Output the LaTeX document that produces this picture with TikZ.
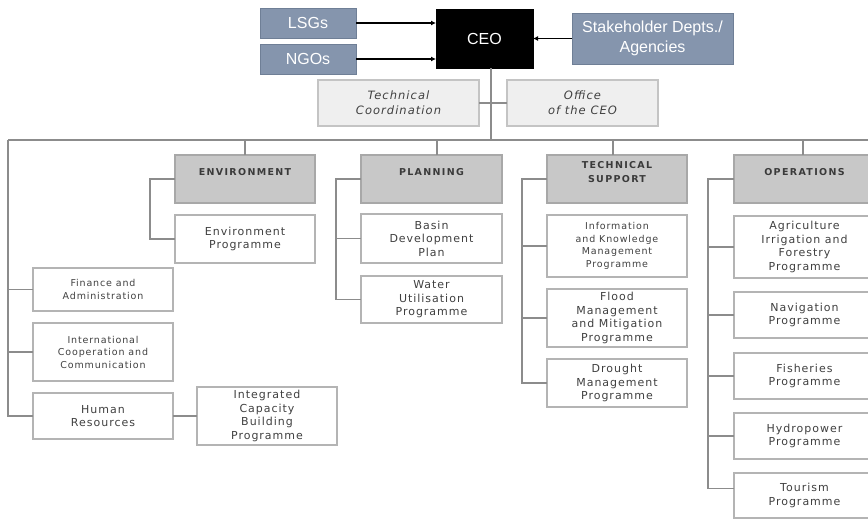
\documentclass[tikz,border=0pt]{standalone}
\usepackage{fontspec}
\usetikzlibrary{arrows.meta}
\newfontfamily\topfont{Liberation Sans}
\newfontfamily\boxfont[LetterSpace=9]{DejaVu Sans}
\newfontfamily\headfont[LetterSpace=14]{DejaVu Sans Bold}
\definecolor{bluegray}{HTML}{8595AD}
\definecolor{bluegrayd}{HTML}{6F7F96}
\definecolor{lightfill}{HTML}{EFEFEF}
\definecolor{lightdraw}{HTML}{C4C4C4}
\definecolor{headfill}{HTML}{C8C8C8}
\definecolor{headdraw}{HTML}{A8A8A8}
\definecolor{progdraw}{HTML}{B4B4B4}
\definecolor{txt}{HTML}{404040}
\definecolor{headtxt}{HTML}{3A3A3A}
\definecolor{linec}{HTML}{8C8C8C}
\tikzset{
  base/.style={inner sep=0pt, outer sep=0pt, align=center},
  bluebox/.style={base, draw=bluegrayd, fill=bluegray, line width=1pt, text=white, font=\topfont\fontsize{16}{20}\selectfont},
  ceobox/.style={base, draw=black, fill=black, text=white, font=\topfont\fontsize{16}{20}\selectfont},
  coordbox/.style={base, draw=lightdraw, fill=lightfill, line width=1.2pt, text=txt, font=\boxfont\itshape\fontsize{11.5}{15}\selectfont},
  headbox/.style={base, draw=headdraw, fill=headfill, line width=1.2pt},
  headtext/.style={font=\headfont\fontsize{9.5}{14}\selectfont, text=headtxt, align=center, inner sep=0pt},
  hl/.style={label={[headtext, anchor=center, yshift=-17pt]north:#1}},
  prog/.style={base, draw=progdraw, fill=white, line width=1.2pt, text=txt, font=\boxfont\fontsize{11}{13.5}\selectfont},
  progsmall/.style={prog, font=\boxfont\fontsize{9.5}{12.5}\selectfont},
  arr/.style={draw=black, line width=1.8pt, -{Latex[length=5pt,width=5pt]}},
  tree/.style={draw=linec, line width=1.3pt}
}
\begin{document}
\begin{tikzpicture}[x=1pt,y=-1pt]
\useasboundingbox (0,0) rectangle (868,520);
\clip (0,0) rectangle (868,520);
\fill[white] (0,0) rectangle (868,520);

% top
\node[bluebox, minimum width=96pt, minimum height=30pt] (lsg) at (308,23) {LSGs};
\node[bluebox, minimum width=96pt, minimum height=30pt] (ngo) at (308,59) {NGOs};
\node[ceobox, minimum width=97pt, minimum height=59pt] (ceo) at (484.5,38.5) {CEO};
\node[bluebox, minimum width=161pt, minimum height=51pt] (stake) at (652.5,38.5) {Stakeholder Depts./\\Agencies};

\draw[arr] (lsg.east) -- (lsg.east -| ceo.west);
\draw[arr] (ngo.east) -- (ngo.east -| ceo.west);
\draw[arr] (stake.west) -- (stake.west -| ceo.east);

\node[coordbox, minimum width=161pt, minimum height=46pt] (tc) at (398.5,103) {Technical\\Coordination};
\node[coordbox, minimum width=151pt, minimum height=46pt] (oc) at (582.5,103) {Office\\of the CEO};

\coordinate (L) at (8,140);
\coordinate (R) at (868,140);
\draw[tree] (ceo.south) ++(6.5,0) coordinate (cs) -- (cs |- R);
\draw[tree] (tc.east) -- (oc.west);
\draw[tree] (L) -- (R);

% heads
\node[headbox, minimum width=140pt, minimum height=48pt, hl={ENVIRONMENT}] (env) at (245,179) {};
\node[headbox, minimum width=141pt, minimum height=48pt, hl={PLANNING}] (plan) at (431.5,179) {};
\node[headbox, minimum width=140pt, minimum height=48pt, hl={TECHNICAL\\SUPPORT}] (ts) at (617,179) {};
\node[headbox, minimum width=141pt, minimum height=48pt, hl={OPERATIONS}] (ops) at (804.5,179) {};

\draw[tree] (env.north) -- (env.north |- R);
\draw[tree] (plan.north) ++(5.5,0) coordinate (pd) -- (pd |- R);
\draw[tree] (ts.north) ++(-4,0) coordinate (td) -- (td |- R);
\draw[tree] (ops.north) ++(-1.5,0) coordinate (od) -- (od |- R);

% environment
\node[prog, minimum width=140pt, minimum height=48pt] (envp) at (245,239) {Environment\\Programme};
\coordinate (eb) at (150,179);
\draw[tree] (env.west) -- (eb) |- (envp.west);

% left column
\node[progsmall, minimum width=140pt, minimum height=43pt] (fin) at (103,289.5) {Finance and\\Administration};
\node[progsmall, minimum width=140pt, minimum height=58pt] (intl) at (103,352) {International\\Cooperation and\\Communication};
\node[prog, minimum width=140pt, minimum height=46pt] (hr) at (103,416) {Human\\Resources};
\node[prog, minimum width=140pt, minimum height=58pt] (icbp) at (267,416) {Integrated\\Capacity\\Building\\Programme};
\draw[tree] (L) |- (fin.west);
\draw[tree] (L) |- (intl.west);
\draw[tree] (L) |- (hr.west);
\draw[tree] (hr.east) -- (icbp.west);

% planning
\node[prog, minimum width=141pt, minimum height=49pt] (basin) at (431.5,238.5) {Basin\\Development\\Plan};
\node[prog, minimum width=141pt, minimum height=47pt] (water) at (431.5,299.5) {Water\\Utilisation\\Programme};
\coordinate (pb) at (336,179);
\draw[tree] (plan.west) -- (pb) |- (basin.west);
\draw[tree] (pb) |- (water.west);

% technical support
\node[progsmall, minimum width=140pt, minimum height=62pt] (ikm) at (617,246) {Information\\and Knowledge\\Management\\Programme};
\node[prog, minimum width=140pt, minimum height=58pt] (flood) at (617,318) {Flood\\Management\\and Mitigation\\Programme};
\node[prog, minimum width=140pt, minimum height=48pt] (drought) at (617,383) {Drought\\Management\\Programme};
\coordinate (tb) at (522,179);
\draw[tree] (ts.west) -- (tb) |- (ikm.west);
\draw[tree] (tb) |- (flood.west);
\draw[tree] (tb) |- (drought.west);

% operations
\node[prog, minimum width=141pt, minimum height=62pt] (agri) at (804.5,247) {Agriculture\\Irrigation and\\Forestry\\Programme};
\node[prog, minimum width=141pt, minimum height=46pt] (nav) at (804.5,315) {Navigation\\Programme};
\node[prog, minimum width=141pt, minimum height=46pt] (fish) at (804.5,376) {Fisheries\\Programme};
\node[prog, minimum width=141pt, minimum height=46pt] (hydro) at (804.5,436) {Hydropower\\Programme};
\node[prog, minimum width=141pt, minimum height=45pt] (tour) at (804.5,495.5) {Tourism\\Programme};
\coordinate (ob) at (708,179);
\draw[tree] (ops.west) -- (ob) |- (agri.west);
\draw[tree] (ob) |- (nav.west);
\draw[tree] (ob) |- (fish.west);
\draw[tree] (ob) |- (hydro.west);
\draw[tree] (ob) |- ([yshift=7pt]tour.west);
\end{tikzpicture}
\end{document}
